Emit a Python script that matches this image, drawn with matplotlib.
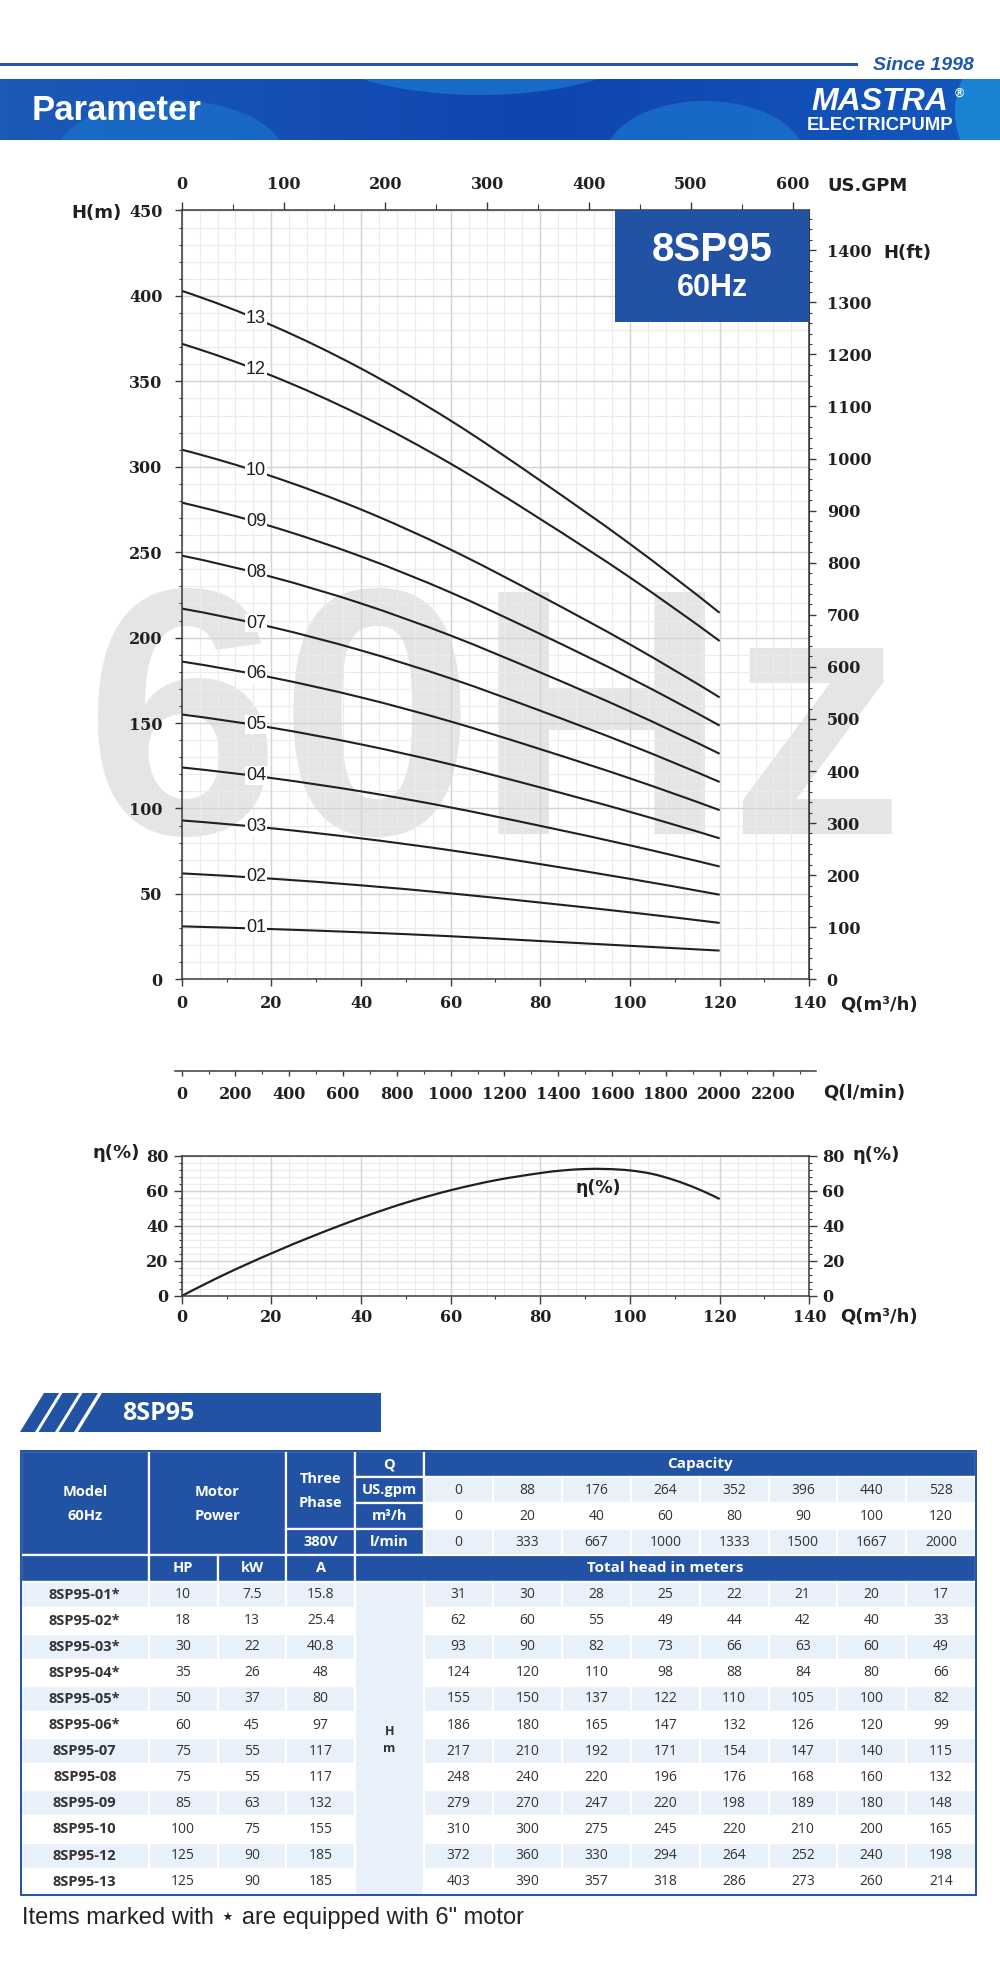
import numpy as np
import matplotlib.pyplot as plt
from matplotlib.patches import Rectangle, Polygon, Ellipse, PathPatch
from matplotlib.path import Path
from matplotlib.ticker import MultipleLocator
from matplotlib.colors import to_rgb

plt.rcParams['font.family'] = 'DejaVu Serif'
plt.rcParams['font.weight'] = 'bold'

# ---------------------------------------------------------------- data
# table values
flow_m3h = [0, 20, 40, 60, 80, 90, 100, 120]
flow_gpm = [0, 88, 176, 264, 352, 396, 440, 528]
flow_lmin = [0, 333, 667, 1000, 1333, 1500, 1667, 2000]

stages = ['01', '02', '03', '04', '05', '06', '07', '08', '09', '10', '12', '13']
models = ['8SP95-01*', '8SP95-02*', '8SP95-03*', '8SP95-04*', '8SP95-05*', '8SP95-06*',
          '8SP95-07', '8SP95-08', '8SP95-09', '8SP95-10', '8SP95-12', '8SP95-13']
motor_hp = ['10', '18', '30', '35', '50', '60', '75', '75', '85', '100', '125', '125']
motor_kw = ['7.5', '13', '22', '26', '37', '45', '55', '55', '63', '75', '90', '90']
current_a = ['15.8', '25.4', '40.8', '48', '80', '97', '117', '117', '132', '155', '185', '185']
head_m = [
    [31, 30, 28, 25, 22, 21, 20, 17],
    [62, 60, 55, 49, 44, 42, 40, 33],
    [93, 90, 82, 73, 66, 63, 60, 49],
    [124, 120, 110, 98, 88, 84, 80, 66],
    [155, 150, 137, 122, 110, 105, 100, 82],
    [186, 180, 165, 147, 132, 126, 120, 99],
    [217, 210, 192, 171, 154, 147, 140, 115],
    [248, 240, 220, 196, 176, 168, 160, 132],
    [279, 270, 247, 220, 198, 189, 180, 148],
    [310, 300, 275, 245, 220, 210, 200, 165],
    [372, 360, 330, 294, 264, 252, 240, 198],
    [403, 390, 357, 318, 286, 273, 260, 214],
]

# curves
curve_q = [0, 20, 40, 60, 80, 100, 120]
curve_head = [
    [31, 29.4, 27.5, 25.2, 22.4, 19.6, 16.8],
    [62, 58.9, 55, 50.3, 44.9, 39.2, 33],
    [93, 88.4, 82.5, 75.5, 67.4, 58.8, 49.5],
    [124, 117.8, 110, 100.6, 89.8, 78.4, 66],
    [155, 147.3, 137.5, 125.8, 112.3, 98, 82.5],
    [186, 176.7, 165, 150.9, 134.7, 117.6, 99],
    [217, 206.2, 192.5, 176.1, 157.2, 137.2, 115.5],
    [248, 235.6, 220, 201.2, 179.6, 156.8, 132],
    [279, 265.1, 247.5, 226.4, 202.1, 176.4, 148.5],
    [310, 294.5, 275, 251.5, 224.5, 196, 165],
    [372, 353.4, 330, 301.8, 269.4, 235.2, 198],
    [403, 382.9, 357.5, 327, 291.9, 254.8, 214.5],
]

eff_q = [0, 10, 20, 30, 40, 50, 60, 70, 80, 85, 90, 95, 100, 105, 110, 115, 120]
eff_pct = [0, 12.8, 24.3, 34.9, 44.6, 53.2, 60.3, 66.0, 70.1, 71.6, 72.4, 72.4, 71.6, 69.6, 66.0, 61.2, 55.3]

# ---------------------------------------------------------------- style
W, H = 1000, 1976
BLUE = '#2152a3'
LIGHT = '#e8f0fa'
INK = '#231f20'
SPINE = '#3a3a3a'
GRID_MAJ = '#d4d4d4'
GRID_MIN = '#ebebeb'
SANS = ['Liberation Sans', 'DejaVu Sans']
TAB = ['Open Sans', 'DejaVu Sans']


def smooth_path(xs, ys):
    """Bezier path through the given points (smooth drawing of a pump curve)."""
    xs = np.asarray(xs, float)
    ys = np.asarray(ys, float)
    n = len(xs)
    sec = np.diff(ys) / np.diff(xs)
    m = np.empty(n)
    m[1:-1] = (ys[2:] - ys[:-2]) / (xs[2:] - xs[:-2])
    m[0] = 2 * sec[0] - m[1]
    m[-1] = 2 * sec[-1] - m[-2]
    verts = [(xs[0], ys[0])]
    codes = [Path.MOVETO]
    for i in range(n - 1):
        d = (xs[i + 1] - xs[i]) / 3
        verts += [(xs[i] + d, ys[i] + m[i] * d),
                  (xs[i + 1] - d, ys[i + 1] - m[i + 1] * d),
                  (xs[i + 1], ys[i + 1])]
        codes += [Path.CURVE4] * 3
    return Path(verts, codes)


fig = plt.figure(figsize=(W / 100, H / 100), dpi=100)
fig.patch.set_facecolor('white')

# overlay in pixel coordinates (y down)
ov = fig.add_axes([0, 0, 1, 1], zorder=-1)
ov.set_xlim(0, W)
ov.set_ylim(H, 0)
ov.axis('off')
ov.set_facecolor('none')

# ---------------------------------------------------------------- header
ov.add_patch(Rectangle((0, 63), 858, 3.2, facecolor='#1f55b5', edgecolor='none'))
ov.text(974, 65, 'Since 1998', ha='right', va='center', fontsize=14, color='#1f55b5',
        family=SANS, weight='bold', style='italic')

g = np.linspace(0, 1, 600)
stops = [0, 0.55, 1]
cols = np.array([to_rgb('#1b5ab9'), to_rgb('#0f45ae'), to_rgb('#1459bd')])
img = np.dstack([np.interp(g, stops, cols[:, k]) for k in range(3)])
ov.imshow(img, extent=(0, W, 140, 79), aspect='auto', zorder=1)
band = Rectangle((0, 79), W, 61, facecolor='none', edgecolor='none', zorder=1)
ov.add_patch(band)
for (cx, cy, ew, eh, c, a) in [(480, 30, 360, 130, '#1a78cf', 0.75),
                               (170, 158, 230, 116, '#1a72cb', 0.7),
                               (705, 158, 200, 114, '#1a76ce', 0.7),
                               (1010, 112, 110, 130, '#1c8ad8', 0.85)]:
    e = Ellipse((cx, cy), ew, eh, facecolor=c, edgecolor='none', alpha=a, zorder=1.5)
    ov.add_patch(e)
    e.set_clip_path(band)
ov.text(32, 110, 'Parameter', ha='left', va='center', fontsize=25, color='white',
        family=SANS, weight='bold', zorder=3)
ov.text(880, 102, 'MASTRA', ha='center', va='center', fontsize=23, color='white',
        family=SANS, weight='bold', style='italic', zorder=3)
ov.text(880, 125, 'ELECTRICPUMP', ha='center', va='center', fontsize=13.4, color='white',
        family=SANS, weight='bold', zorder=3)
ov.text(959, 94, '®', ha='center', va='center', fontsize=9, color='white', family=SANS, zorder=3)

# watermark
ov.text(494, 834, '60Hz', ha='center', va='baseline', fontsize=253, color='#e5e5e5',
        family=SANS, weight='bold', zorder=0)

# ---------------------------------------------------------------- main chart
ax_l, ax_r, ax_t, ax_b = 181.7, 809.3, 210.5, 979.3
ax = fig.add_axes([ax_l / W, 1 - ax_b / H, (ax_r - ax_l) / W, (ax_b - ax_t) / H])
ax.set_facecolor('none')
ax.set_xlim(0, 140)
ax.set_ylim(0, 450)

for v in np.arange(0, 141, 4):
    ax.axvline(v, color=GRID_MIN, lw=0.8, zorder=0.2)
for v in np.arange(0, 451, 10):
    ax.axhline(v, color=GRID_MIN, lw=0.8, zorder=0.2)
for v in np.arange(0, 141, 20):
    ax.axvline(v, color=GRID_MAJ, lw=1.0, zorder=0.3)
for v in np.arange(0, 451, 50):
    ax.axhline(v, color=GRID_MAJ, lw=1.0, zorder=0.3)

for stage, h in zip(stages, curve_head):
    ax.add_patch(PathPatch(smooth_path(curve_q, h), facecolor='none', edgecolor=INK,
                           lw=1.5, zorder=2))
    yl = np.interp(16.6, curve_q, h) + 0.5
    ax.text(16.6, yl, stage, ha='center', va='center', fontsize=13, color=INK,
            family=SANS, weight='normal', zorder=3,
            bbox=dict(boxstyle='square,pad=0.05', facecolor='white', edgecolor='none'))

ax.xaxis.set_major_locator(MultipleLocator(20))
ax.xaxis.set_minor_locator(MultipleLocator(10))
ax.yaxis.set_major_locator(MultipleLocator(50))
ax.yaxis.set_minor_locator(MultipleLocator(10))
ax.tick_params(which='major', direction='out', length=5, width=1, color=SPINE,
               labelsize=11.5, labelcolor=INK)
ax.tick_params(which='minor', direction='out', length=2.5, width=0.8, color=SPINE)
ax.tick_params(axis='y', which='major', pad=9)
ax.tick_params(axis='x', which='major', pad=6)
for s in ax.spines.values():
    s.set_color(SPINE)
    s.set_linewidth(1.1)

top = ax.secondary_xaxis('top', functions=(lambda q: q * 4.40287, lambda gp: gp / 4.40287))
top.xaxis.set_major_locator(MultipleLocator(100))
top.xaxis.set_minor_locator(MultipleLocator(50))
top.tick_params(which='major', direction='out', length=5.5, width=1, color=SPINE,
                labelsize=11.5, labelcolor=INK, pad=7)
top.tick_params(which='minor', direction='out', length=4, width=0.8, color=SPINE)
top.spines['top'].set_color(SPINE)

right = ax.secondary_yaxis('right', functions=(lambda m: m * 3.28084, lambda f: f / 3.28084))
right.yaxis.set_major_locator(MultipleLocator(100))
right.yaxis.set_minor_locator(MultipleLocator(20))
right.tick_params(which='major', direction='out', length=5, width=1, color=SPINE,
                  labelsize=11.5, labelcolor=INK, pad=7.5)
right.tick_params(which='minor', direction='out', length=2.5, width=0.8, color=SPINE)
right.spines['right'].set_color(SPINE)

# model box
ax.add_patch(Rectangle((0.6904, 0.8554), 0.3096, 0.1446, transform=ax.transAxes,
                       facecolor=BLUE, edgecolor='none', zorder=4, clip_on=False))
ax.text(0.8458, 0.9486, '8SP95', transform=ax.transAxes, ha='center', va='center',
        fontsize=29, color='white', family=SANS, weight='bold', zorder=5)
ax.text(0.8458, 0.8992, '60Hz', transform=ax.transAxes, ha='center', va='center',
        fontsize=22, color='white', family=SANS, weight='bold', zorder=5)

LBL = dict(color=INK, family=['DejaVu Sans'], weight='bold', fontsize=13)
ov.text(122, 213, 'H(m)', ha='right', va='center', **LBL)
ov.text(827, 186, 'US.GPM', ha='left', va='center', **LBL)
ov.text(883, 253, 'H(ft)', ha='left', va='center', **LBL)
ov.text(840, 1004, 'Q(m³/h)', ha='left', va='center', **LBL)

# ---------------------------------------------------------------- l/min axis
lm = fig.add_axes([175 / W, 1 - 1071 / H, (816 - 175) / W, 0.0001])
lm.set_facecolor('none')
lm.set_xlim(-24.9, 2358.2)
lm.set_yticks([])
for k in ('left', 'right', 'top'):
    lm.spines[k].set_visible(False)
lm.spines['bottom'].set_color(SPINE)
lm.spines['bottom'].set_linewidth(1.1)
lm.xaxis.set_major_locator(MultipleLocator(200))
lm.xaxis.set_minor_locator(MultipleLocator(100))
lm.tick_params(which='major', direction='out', length=3.5, width=1, color=SPINE,
               labelsize=11.5, labelcolor=INK, pad=7)
lm.tick_params(which='minor', direction='out', length=2.5, width=0.8, color=SPINE)
ov.text(823, 1092, 'Q(l/min)', ha='left', va='center', **LBL)

# ---------------------------------------------------------------- efficiency chart
e_t, e_b = 1155.7, 1296
ae = fig.add_axes([ax_l / W, 1 - e_b / H, (ax_r - ax_l) / W, (e_b - e_t) / H])
ae.set_facecolor('none')
ae.set_xlim(0, 140)
ae.set_ylim(0, 80)
for v in np.arange(0, 141, 4):
    ae.axvline(v, color=GRID_MIN, lw=0.8, zorder=0.2)
for v in np.arange(0, 81, 4):
    ae.axhline(v, color=GRID_MIN, lw=0.8, zorder=0.2)
for v in np.arange(0, 141, 20):
    ae.axvline(v, color=GRID_MAJ, lw=1.0, zorder=0.3)
for v in np.arange(0, 81, 20):
    ae.axhline(v, color=GRID_MAJ, lw=1.0, zorder=0.3)
ae.add_patch(PathPatch(smooth_path(eff_q, eff_pct), facecolor='none', edgecolor=INK,
                       lw=1.6, zorder=2))
ae.text(92.9, 61.6, 'η(%)', ha='center', va='center', fontsize=12.5, color=INK,
        family=['DejaVu Sans'], weight='bold', zorder=3)

ae.xaxis.set_major_locator(MultipleLocator(20))
ae.xaxis.set_minor_locator(MultipleLocator(10))
ae.yaxis.set_major_locator(MultipleLocator(20))
ae.yaxis.set_minor_locator(MultipleLocator(4))
ae.tick_params(which='major', direction='out', length=5.5, width=1, color=SPINE,
               labelsize=11.5, labelcolor=INK)
ae.tick_params(which='minor', direction='out', length=2.5, width=0.8, color=SPINE)
ae.tick_params(axis='y', which='both', left=True, right=True, labelleft=True, labelright=True)
ae.tick_params(axis='y', which='major', pad=4)
ae.tick_params(axis='x', which='major', pad=4)
for s in ae.spines.values():
    s.set_color(SPINE)
    s.set_linewidth(1.1)
ov.text(140, 1153, 'η(%)', ha='right', va='center', **LBL)
ov.text(853, 1155, 'η(%)', ha='left', va='center', **LBL)
ov.text(840, 1316, 'Q(m³/h)', ha='left', va='center', **LBL)

# ---------------------------------------------------------------- table title banner
by0, by1, sl = 1393, 1432, 24
for xb0, xb1 in [(20, 35), (38.5, 55), (58.5, 74)]:
    ov.add_patch(Polygon([(xb0, by1), (xb1, by1), (xb1 + sl, by0), (xb0 + sl, by0)],
                         closed=True, facecolor=BLUE, edgecolor='none'))
ov.add_patch(Polygon([(77.5, by1), (381, by1), (381, by0), (77.5 + sl, by0)],
                     closed=True, facecolor=BLUE, edgecolor='none'))
ov.text(122, 1413, '8SP95', ha='left', va='center', fontsize=18, color='white',
        family=TAB, weight='bold')

# ---------------------------------------------------------------- table
col_x = [21, 148.6, 217.5, 286.4, 355, 424, 493, 562, 631, 700, 768.5, 837, 906, 976]
row_h = 26.1
top_y = 1451


def cell(c0, c1, r0, r1, fc):
    x0, x1 = col_x[c0], col_x[c1]
    y0, y1 = top_y + r0 * row_h, top_y + r1 * row_h
    ov.add_patch(Rectangle((x0, y0), x1 - x0, y1 - y0, facecolor=fc,
                           edgecolor='white', lw=1.6, zorder=2))
    return (x0 + x1) / 2, (y0 + y1) / 2


def put(x, y, s, dark=False, bold=False, size=10):
    ov.text(x, y, s, ha='center', va='center', fontsize=size, family=TAB,
            weight='bold' if bold else 'normal', color='#333333' if dark else 'white', zorder=3)


HB = dict(bold=True, size=10.5)
cx, cy = cell(0, 1, 0, 4, BLUE)
put(cx, cy - 11.5, 'Model', **HB)
put(cx, cy + 12.5, '60Hz', **HB)
cx, cy = cell(1, 3, 0, 4, BLUE)
put(cx, cy - 11.5, 'Motor', **HB)
put(cx, cy + 12.5, 'Power', **HB)
cx, cy = cell(3, 4, 0, 3, BLUE)
put(cx, cy - 11.5, 'Three', **HB)
put(cx, cy + 13, 'Phase', **HB)
put(*cell(3, 4, 3, 4, BLUE), '380V', **HB)
for r, s in enumerate(['Q', 'US.gpm', 'm³/h', 'l/min']):
    put(*cell(4, 5, r, r + 1, BLUE), s, **HB)
put(*cell(5, 13, 0, 1, BLUE), 'Capacity', bold=True, size=11)
for r, (vals, fc) in enumerate([(flow_gpm, LIGHT), (flow_m3h, 'white'), (flow_lmin, LIGHT)]):
    for c, v in enumerate(vals):
        put(*cell(5 + c, 6 + c, r + 1, r + 2, fc), str(v), dark=True)

cell(0, 1, 4, 5, BLUE)
put(*cell(1, 2, 4, 5, BLUE), 'HP', **HB)
put(*cell(2, 3, 4, 5, BLUE), 'kW', **HB)
put(*cell(3, 4, 4, 5, BLUE), 'A', **HB)
put(*cell(4, 13, 4, 5, BLUE), 'Total head in meters', bold=True, size=11)

for i, (m, hp, kw, a, h) in enumerate(zip(models, motor_hp, motor_kw, current_a, head_m)):
    r = 5 + i
    fc = LIGHT if i % 2 == 0 else 'white'
    put(*cell(0, 1, r, r + 1, fc), m, dark=True, bold=True, size=10.5)
    put(*cell(1, 2, r, r + 1, fc), hp, dark=True)
    put(*cell(2, 3, r, r + 1, fc), kw, dark=True)
    put(*cell(3, 4, r, r + 1, fc), a, dark=True)
    for c, v in enumerate(h):
        put(*cell(5 + c, 6 + c, r, r + 1, fc), str(v), dark=True)
cx, cy = cell(4, 5, 5, 17, LIGHT)
put(cx, 1731.5, 'H', dark=True, bold=True, size=9)
put(cx, 1748.5, 'm', dark=True, bold=True, size=9)

ov.add_patch(Rectangle((col_x[0], top_y), col_x[-1] - col_x[0], 17 * row_h,
                       facecolor='none', edgecolor=BLUE, lw=1.4, zorder=4))

ov.text(22, 1918, 'Items marked with ⋆ are equipped with 6" motor', ha='left', va='center',
        fontsize=17, color='#222222', family=SANS, weight='normal')

fig.savefig('out.png', dpi=100, facecolor='white')
